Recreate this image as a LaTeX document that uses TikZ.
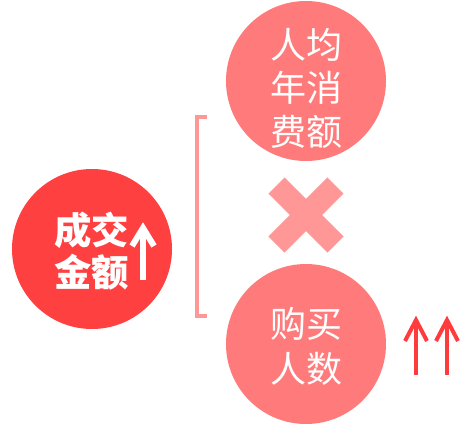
\documentclass[tikz,border=0pt]{standalone}
\usepackage{fontspec}
\newfontfamily\cjk{Noto Sans CJK SC}
\definecolor{deepred}{HTML}{FF4040}
\definecolor{softred}{HTML}{FF7B7B}
\definecolor{palered}{HTML}{FF9797}
\definecolor{arrowred}{HTML}{FF3B3B}
\tikzset{
  ball/.style={circle, inner sep=0pt, minimum size=120pt},
  ballword/.style={text=white, align=center, inner sep=0pt},
}

\begin{document}
\begin{tikzpicture}[x=0.75pt,y=-0.75pt,font=\cjk]
\useasboundingbox (0,0) rectangle (461,425);

% the three circles
\node[ball, fill=deepred] (sum) at (92,249) {};
\node[ball, fill=softred] (spend) at (306,81) {};
\node[ball, fill=softred] (buyers) at (306,344) {};

\node[ballword, font=\cjk\bfseries\fontsize{28}{31}\selectfont] (sumtxt) at (91.5,251) {成交\\金额};
\node[ballword, font=\cjk\fontsize{27}{32.6}\selectfont] (spendtxt) at (306,88) {人均\\年消\\费额};
\node[ballword, font=\cjk\fontsize{27}{34}\selectfont] (buyerstxt) at (306,346.5) {购买\\人数};

% arrow inside the left circle
\coordinate (sumtip) at (143,228);
\draw[white, line width=4.5pt] (143,280) -- (sumtip);
\draw[white, line width=4.5pt, line join=miter]
  ([shift={(-11,18)}]sumtip) -- (sumtip) -- ([shift={(11,18)}]sumtip);

% bracket
\draw[palered, line width=3.5pt, line join=miter] (207,117) -- (197,117) -- (197,316) -- (207,316);

% times sign
\coordinate (cross) at (306,215);
\draw[palered, line width=17pt] ([shift={(-29.5,-29.5)}]cross) -- ([shift={(29.5,29.5)}]cross);
\draw[palered, line width=17pt] ([shift={(-29.5,29.5)}]cross) -- ([shift={(29.5,-29.5)}]cross);

% two up arrows
\foreach \ax [count=\i] in {416,447} {
  \coordinate (up\i) at (\ax,320);
  \draw[arrowred, line width=3pt] (\ax,375) -- (up\i);
  \draw[arrowred, line width=3pt, line join=miter]
    ([shift={(-11,21)}]up\i) -- (up\i) -- ([shift={(11,21)}]up\i);
}

\end{tikzpicture}
\end{document}
